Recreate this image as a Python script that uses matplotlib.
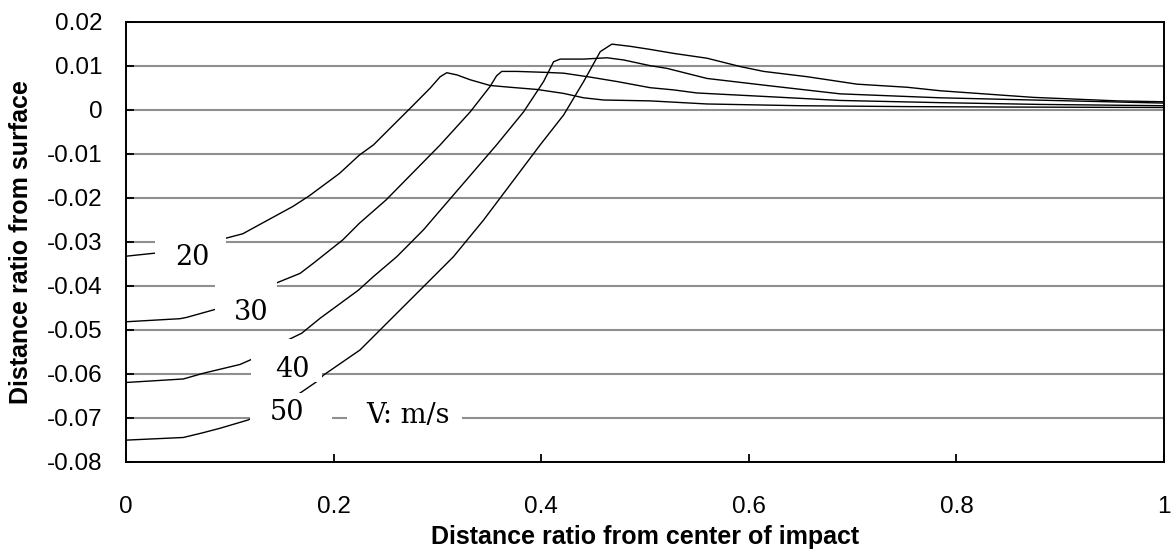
import numpy as np
import matplotlib.pyplot as plt
from matplotlib.patches import Rectangle

plt.rcParams['font.family'] = ['Liberation Sans', 'DejaVu Sans']

# surface profiles for each impact velocity (x: ratio from impact centre, y: ratio from surface)
x_20 = [0, 0.028, 0.0964, 0.1125, 0.128, 0.1607, 0.1764, 0.2056, 0.2249, 0.2384, 0.2545,
        0.2737, 0.293, 0.3027, 0.309, 0.3189, 0.3316, 0.3508, 0.370, 0.3959, 0.4216, 0.4409,
        0.4602, 0.505, 0.5597, 0.65, 0.7525, 0.85, 1.0]
y_20 = [-0.0333, -0.0326, -0.0292, -0.0282, -0.0262, -0.0220, -0.0196, -0.0145, -0.0103, -0.0080, -0.0042,
        0.0003, 0.0049, 0.0075, 0.0084, 0.0079, 0.0068, 0.0055, 0.0051, 0.0046, 0.0037, 0.0027,
        0.0022, 0.0020, 0.0013, 0.0009, 0.0007, 0.0006, 0.0005]

x_30 = [0, 0.052, 0.0585, 0.0858, 0.1468, 0.1677, 0.1805, 0.2088, 0.2249, 0.2506, 0.3027,
        0.3316, 0.3508, 0.357, 0.362, 0.3764, 0.4023, 0.4216, 0.4473, 0.473, 0.505, 0.5275,
        0.55, 0.624, 0.688, 0.7846, 0.88, 1.0]
y_30 = [-0.0482, -0.0475, -0.0472, -0.0454, -0.0392, -0.0372, -0.0349, -0.0296, -0.0258, -0.0205, -0.0080,
        -0.0005, 0.0053, 0.0077, 0.0087, 0.0087, 0.0085, 0.0083, 0.0074, 0.0064, 0.0050, 0.0045,
        0.0038, 0.0029, 0.0021, 0.0016, 0.0012, 0.0009]

x_40 = [0, 0.0552, 0.0745, 0.1099, 0.1195, 0.158, 0.1693, 0.187, 0.224, 0.2385, 0.2609,
        0.2866, 0.2946, 0.357, 0.383, 0.4023, 0.4119, 0.4183, 0.4409, 0.4634, 0.4795, 0.505,
        0.521, 0.5597, 0.6175, 0.688, 0.7846, 0.874, 1.0]
y_40 = [-0.0620, -0.0612, -0.0599, -0.0579, -0.0569, -0.0521, -0.0508, -0.0474, -0.0410, -0.0379, -0.0334,
        -0.0273, -0.0251, -0.0080, -0.0005, 0.0064, 0.0109, 0.0115, 0.0115, 0.0118, 0.0113, 0.0100,
        0.0094, 0.0071, 0.0055, 0.0036, 0.0027, 0.0022, 0.0015]

x_50 = [0, 0.0552, 0.0745, 0.0906, 0.1179, 0.1677, 0.1838, 0.1904, 0.2255, 0.248, 0.2769,
        0.3155, 0.3444, 0.399, 0.4216, 0.4409, 0.4569, 0.4681, 0.4858, 0.505, 0.5275, 0.5597,
        0.5918, 0.6143, 0.6561, 0.7043, 0.7525, 0.7846, 0.874, 0.955, 1.0]
y_50 = [-0.0751, -0.0745, -0.0734, -0.0724, -0.0705, -0.0644, -0.0618, -0.0603, -0.0546, -0.0493, -0.0425,
        -0.0334, -0.0251, -0.0080, -0.0012, 0.0064, 0.0132, 0.0149, 0.0144, 0.0137, 0.0128, 0.0117,
        0.0098, 0.0087, 0.0075, 0.0058, 0.0051, 0.0043, 0.0028, 0.0020, 0.0018]

x_ticks = [0, 0.2, 0.4, 0.6, 0.8, 1.0]
x_tick_labels = ['0', '0.2', '0.4', '0.6', '0.8', '1']
y_ticks = [0.02, 0.01, 0, -0.01, -0.02, -0.03, -0.04, -0.05, -0.06, -0.07, -0.08]
y_tick_labels = ['0.02', '0.01', '0', '-0.01', '-0.02', '-0.03', '-0.04', '-0.05', '-0.06', '-0.07', '-0.08']

# in-plot labels: (text, text x, text y, box x0, box x1, box y0, box y1)
labels = [
    ('20', 0.0636, -0.0337, 0.0280, 0.0964, -0.0390, -0.0283),
    ('30', 0.1210, -0.0460, 0.0858, 0.1455, -0.0492, -0.0388),
    ('40', 0.1600, -0.0591, 0.1205, 0.1889, -0.0619, -0.0521),
    ('50', 0.1552, -0.0688, 0.1195, 0.1985, -0.0757, -0.0644),
    ('V: m/s', 0.2718, -0.0694, 0.2130, 0.3239, -0.0757, -0.0644),
]

fig = plt.figure(figsize=(11.72, 5.52), dpi=100)
ax = fig.add_axes([0.1075, 0.1636, 0.8857, 0.7971])

for xs, ys in [(x_20, y_20), (x_30, y_30), (x_40, y_40), (x_50, y_50)]:
    ax.plot(xs, ys, color='black', lw=1.0, zorder=2)

# white label boxes break the curves and gridlines
for text, tx, ty, bx0, bx1, by0, by1 in labels:
    ax.add_patch(Rectangle((bx0, by0), bx1 - bx0, by1 - by0, facecolor='white',
                           edgecolor='none', zorder=3))
    ax.text(tx, ty, text, ha='center', va='center', fontsize=19.5,
            family='DejaVu Serif', zorder=4)

ax.set_xlim(0, 1)
ax.set_ylim(-0.08, 0.02)
ax.set_xticks(x_ticks)
ax.set_xticklabels(x_tick_labels)
ax.set_yticks(y_ticks)
ax.set_yticklabels(y_tick_labels)
ax.yaxis.grid(True, color='#8f8f8f', lw=1.5, zorder=0.5)
ax.set_axisbelow(True)

for sp in ax.spines.values():
    sp.set_linewidth(1.4)
    sp.set_color('black')

ax.tick_params(direction='in', length=6, width=1.3, labelsize=17.5)
ax.tick_params(axis='y', pad=17)
ax.tick_params(axis='x', pad=25)

ax.set_xlabel('Distance ratio from center of impact', fontsize=18, fontweight='bold', labelpad=5)
ax.set_ylabel('Distance ratio from surface', fontsize=18, fontweight='bold', labelpad=10)

fig.savefig('out.png', dpi=100)
